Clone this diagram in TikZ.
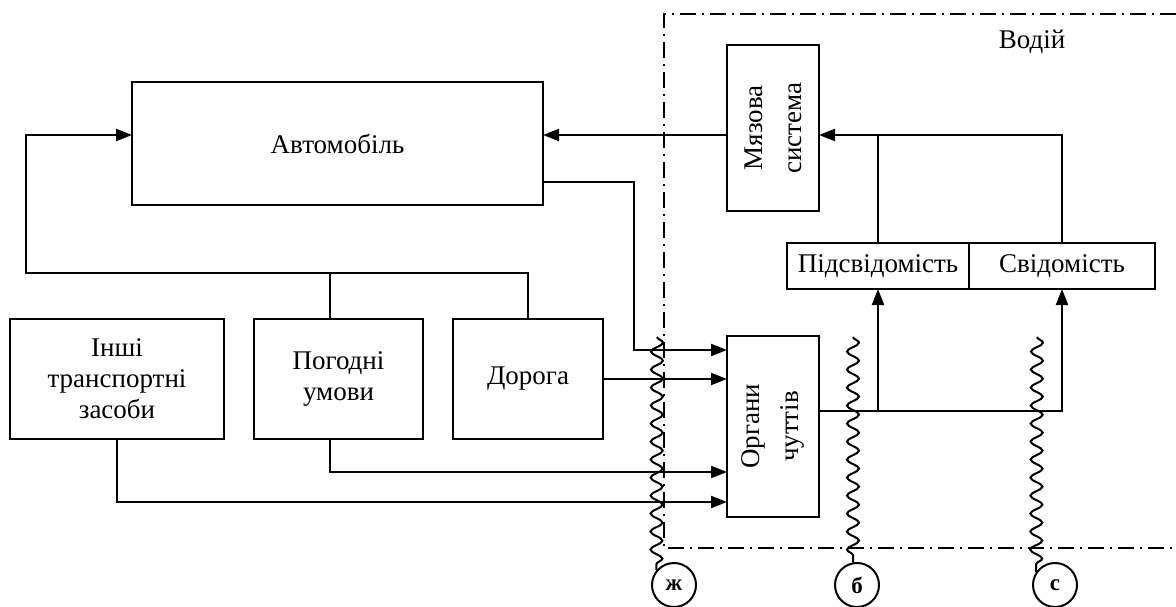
\documentclass[tikz,border=0pt]{standalone}
\usepackage{fontspec}
\setmainfont{Liberation Serif}
\usetikzlibrary{positioning}
\usetikzlibrary{arrows.meta, decorations.pathmorphing}

\tikzset{
    box/.style={draw, line width=2pt, outer sep=0pt, inner sep=0pt, align=center,
        font=\fontsize{27}{31}\selectfont},
    vbox/.style={box, rotate=90, font=\fontsize{27}{39}\selectfont},
    link/.style={line width=2pt},
    arr/.style={line width=2pt, -{Triangle[length=16pt,width=12pt]}},
    frame/.style={line width=1.6pt, dash pattern=on 16pt off 6pt on 2pt off 6pt},
    noise/.style={line width=2pt, decorate,
        decoration={snake, segment length=18pt, amplitude=6pt}},
    sig/.style={draw, circle, line width=2pt, minimum size=44pt, inner sep=0pt,
        font=\fontsize{23}{23}\selectfont\bfseries}
}

\begin{document}
\begin{tikzpicture}[x=1pt, y=-1pt]
    \useasboundingbox (0,0) rectangle (1176,607);

    % driver area
    \draw[frame] (1176,14) -- (664,14) -- (664,548) -- (1176,548);
    \node[font=\fontsize{27}{31}\selectfont] (driver) at (1032,42) {Водій};

    % blocks
    \node[box, minimum width=411pt, minimum height=123pt] (car) at (337.5,143.5) {Автомобіль};
    \node[box, minimum width=214pt, minimum height=120pt] (oth) at (117,379) {Інші\\транспортні\\засоби};
    \node[box, minimum width=169pt, minimum height=120pt] (wea) at (338.5,379) {Погодні\\умови};
    \node[box, minimum width=150pt, minimum height=120pt] (road) at (528,379) {Дорога};
    \node[vbox, minimum width=166pt, minimum height=92pt] (mus) at (773,128) {Мязова\\система};
    \node[vbox, minimum width=181pt, minimum height=92pt] (org) at (773,426.5) {Органи\\чуттів};
    \node[box, minimum width=182pt, minimum height=46pt] (sub) at (878,266) {Підсвідомість};
    \node[box, minimum width=186pt, minimum height=46pt, right=0pt of sub] (con) {Свідомість};

    % levels and bends
    \coordinate (lvA) at (0,135);
    \coordinate (lvB) at (0,182);
    \coordinate (lvD) at (0,472);
    \coordinate (lvE) at (0,502);
    \coordinate (lvF) at (0,411);
    \coordinate (loop) at (26,273);
    \coordinate (bend) at (634,350);

    % connectors
    \draw[arr] (road.north) |- (loop) |- (car.west |- lvA);
    \draw[link] ([xshift=-9pt]wea.north) -- ([xshift=-9pt]wea.north |- loop);
    \draw[arr] (mus.north |- lvA) -- (car.east |- lvA);
    \draw[arr] (con.north) |- (mus.south |- lvA);
    \draw[link] (sub.north) -- (sub.north |- lvA);
    \draw[arr] (car.east |- lvB) -| (bend) -- (bend -| org.north);
    \draw[arr] (road.east) -- (road.east -| org.north);
    \draw[arr] ([xshift=-9pt]wea.south) |- (org.north |- lvD);
    \draw[arr] (oth.south) |- (org.north |- lvE);
    \draw[arr] (org.south |- lvF) -| (con.south);
    \draw[arr] (sub.south |- lvF) -- (sub.south);

    % disturbances
    \node[sig] (s1) at (674,585) {ж};
    \node[sig] (s2) at (857,585) {б};
    \node[sig] (s3) at (1055,585) {с};
    \coordinate (w1) at (657,337);
    \coordinate (w2) at (853,337);
    \coordinate (w3) at (1037,337);
    \draw[noise] (w1) -- (s1.140);
    \draw[noise] (w2) -- (s2.100);
    \draw[noise] (w3) -- (s3.145);
\end{tikzpicture}
\end{document}
